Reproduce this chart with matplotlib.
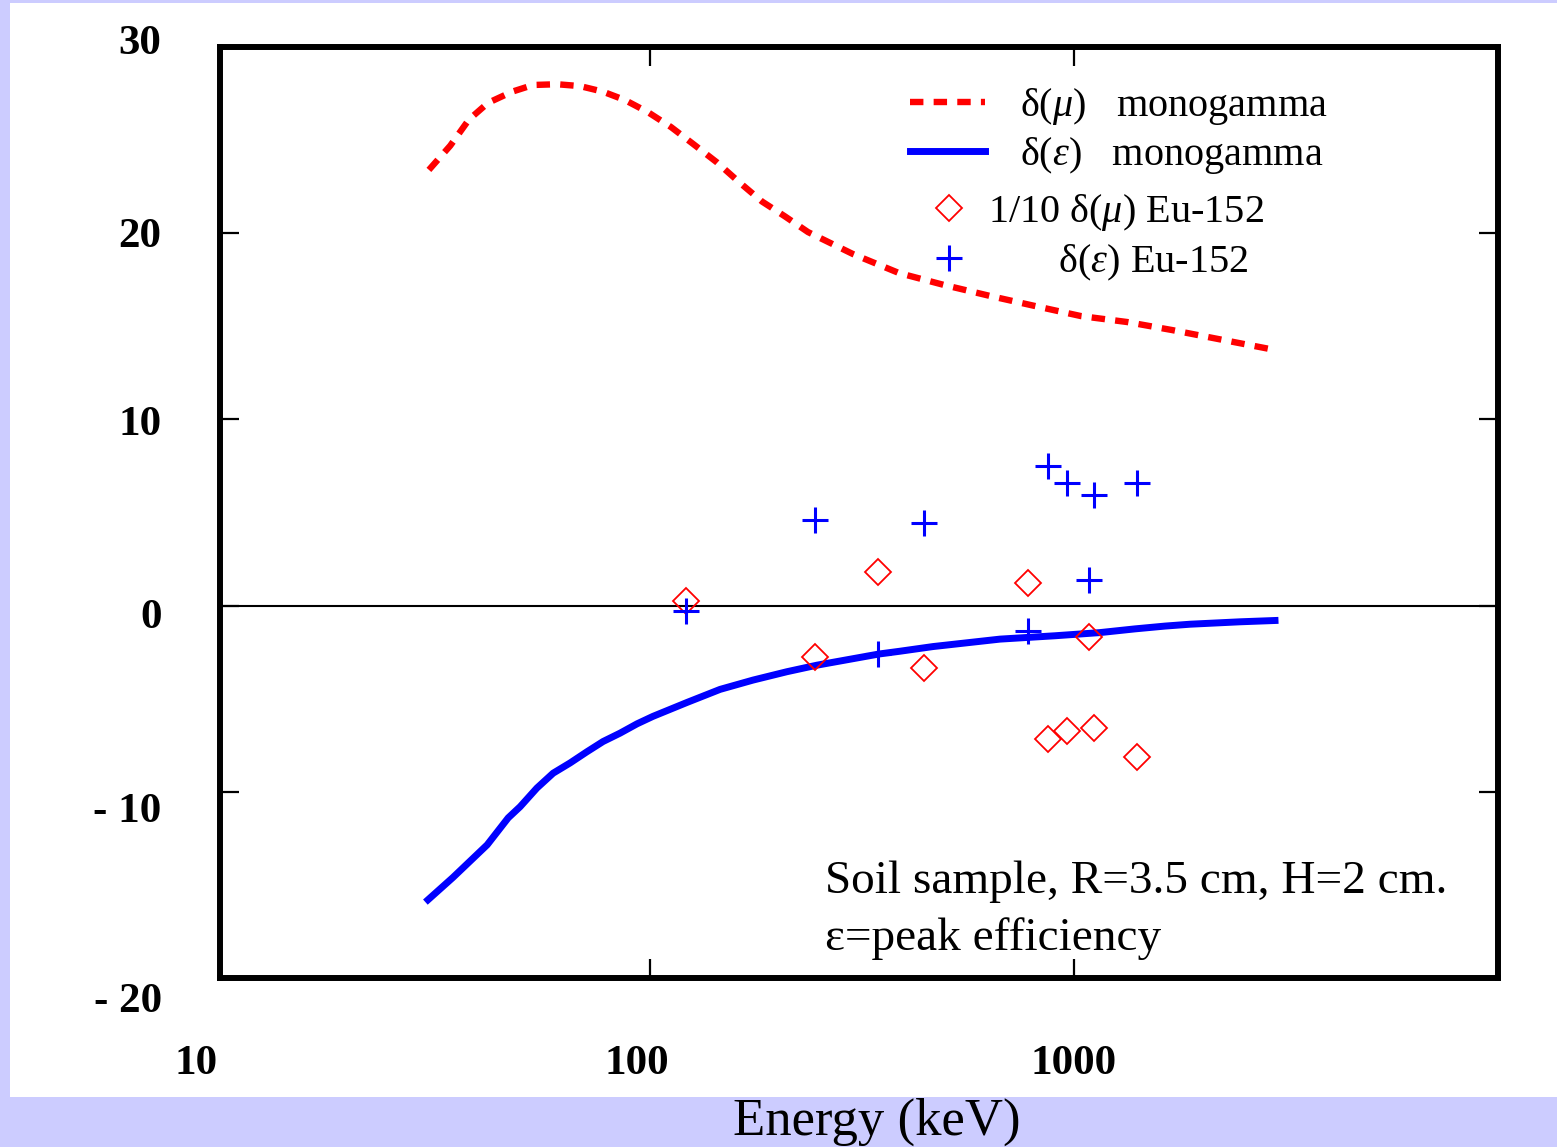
import matplotlib
matplotlib.use("Agg")
import matplotlib.pyplot as plt
from matplotlib.patches import Rectangle
from matplotlib.ticker import FixedLocator, FixedFormatter, NullLocator
from matplotlib.transforms import ScaledTranslation

plt.rcParams['font.family'] = ['Liberation Serif', 'DejaVu Serif']
plt.rcParams['mathtext.fontset'] = 'custom'
plt.rcParams['mathtext.rm'] = 'Liberation Serif'
plt.rcParams['mathtext.it'] = 'Liberation Serif:italic'
plt.rcParams['mathtext.bf'] = 'Liberation Serif:bold'

# --- data ---
# monogamma delta(mu) curve
mu_energy = [30.1, 33.8, 37.4, 41.5, 47.3, 53.0, 60.4, 68.4, 77.5, 87.3, 98.9, 112.1, 126.3,
             143.9, 163.1, 183.8, 208.2, 235.9, 301.1, 386.6, 493.7, 633.8, 809.2, 1038,
             1334, 1702, 2185, 2867]
mu_delta = [23.4, 24.7, 26.1, 27.0, 27.6, 27.96, 28.0, 27.9, 27.6, 27.15, 26.5, 25.7, 24.8,
            23.8, 22.7, 21.7, 20.9, 20.06, 18.88, 17.86, 17.22, 16.63, 16.09, 15.55, 15.23,
            14.8, 14.32, 13.8]

# monogamma delta(eps) curve
eps_energy = [29.95, 34.3, 41.3, 46.3, 49.4, 54.1, 59.1, 64.8, 71.0, 77.5, 85.0, 93.2, 101.6,
              122.3, 146.3, 175.0, 210.4, 247.6, 346.8, 388.8, 465.0, 669.1, 902, 1151, 1393,
              1639, 1877, 2463, 2979]
eps_delta = [-15.8, -14.6, -12.85, -11.4, -10.8, -9.8, -9.0, -8.45, -7.85, -7.3, -6.85, -6.35,
             -5.95, -5.2, -4.5, -4.0, -3.55, -3.2, -2.6, -2.45, -2.2, -1.8, -1.62, -1.45,
             -1.25, -1.1, -1.0, -0.87, -0.8]

# Eu-152 lines
eu_energy = [121.8, 244.7, 344.3, 443.9, 778.9, 867.4, 964.1, 1085.8, 1112.1, 1408.0]
eu_mu_tenth = [0.25, -2.76, 1.8, -3.35, 1.21, -7.16, -6.73, -1.69, -6.57, -8.13]
eu_eps = [-0.29, 4.6, -2.6, 4.44, -1.36, 7.5, 6.58, 1.37, 5.94, 6.58]

x_ticks = [10, 100, 1000]
x_ticklabels = ['10', '100', '1000']
y_ticks = [-20, -10, 0, 10, 20, 30]
y_ticklabels = ['- 20', '- 10', '0', '10', '20', '30']

W, H = 1557, 1147
fig = plt.figure(figsize=(W / 100, H / 100), dpi=100, facecolor='#ccccff')
fig.patches.append(Rectangle((10 / W, 50 / H), 1 - 10 / W, (1144 - 50) / H,
                             transform=fig.transFigure, facecolor='white',
                             edgecolor='none', zorder=-10))

ax = fig.add_axes([220 / W, (H - 978) / H, 1278 / W, 931 / H])
ax.set_facecolor('none')
ax.set_xscale('log')
ax.set_xlim(9.68, 10000)
ax.set_ylim(-20, 30)

ax.axhline(0, color='black', lw=1.5, zorder=1)
h_mu, = ax.plot(mu_energy, mu_delta, color='red', lw=4.6, ls=(0, (2.1, 1.6)), zorder=2)
h_eps, = ax.plot(eps_energy, eps_delta, color='blue', lw=5.0, zorder=2)
h_d, = ax.plot(eu_energy, eu_mu_tenth, ls='none', marker='D', ms=13.5, mfc='none',
               mec='red', mew=1.3, zorder=3)
h_p, = ax.plot(eu_energy, eu_eps, ls='none', marker='+', ms=19, mec='blue', mew=2.2, zorder=3)

ax.xaxis.set_major_locator(FixedLocator(x_ticks))
ax.xaxis.set_major_formatter(FixedFormatter(x_ticklabels))
ax.xaxis.set_minor_locator(NullLocator())
ax.yaxis.set_major_locator(FixedLocator(y_ticks))
ax.yaxis.set_major_formatter(FixedFormatter(y_ticklabels))
ax.tick_params(which='both', direction='in', top=True, right=True, length=14, width=1.6)
ax.tick_params(axis='x', pad=48)
ax.tick_params(axis='y', pad=42)
for lab in ax.get_xticklabels() + ax.get_yticklabels():
    lab.set_fontsize(31)
    lab.set_fontweight('bold')
for sp in ax.spines.values():
    sp.set_linewidth(4.3)

# the original labels sit slightly off their ticks
y_label_shift = [20, 16, 8, 1, -1, -7]
x_label_shift = [-30, -13, 0]
for tick, dy in zip(ax.yaxis.get_major_ticks(), y_label_shift):
    tick.label1.set_transform(tick.label1.get_transform()
                              + ScaledTranslation(0, -dy / 100, fig.dpi_scale_trans))
for tick, dx in zip(ax.xaxis.get_major_ticks(), x_label_shift):
    tick.label1.set_transform(tick.label1.get_transform()
                              + ScaledTranslation(dx / 100, 0, fig.dpi_scale_trans))
# no tick mark drawn at 10 keV, only its label
first = ax.xaxis.get_major_ticks()[0]
first.tick1line.set_visible(False)
first.tick2line.set_visible(False)

leg_kw = dict(loc='upper left', frameon=False, fontsize=29, borderpad=0, borderaxespad=0)
leg1 = ax.legend([h_mu, h_eps],
                 [r'δ($\mu$)   monogamma', r'δ($\varepsilon$)   monogamma'],
                 bbox_to_anchor=(0.54, 0.958), handlelength=1.86, handletextpad=0.87,
                 labelspacing=0.2, **leg_kw)
ax.add_artist(leg1)
ax.legend([h_d, h_p],
          [r'1/10 δ($\mu$) Eu-152', r'       δ($\varepsilon$) Eu-152'],
          bbox_to_anchor=(0.5548, 0.8445), handlelength=1.0, handletextpad=0.47,
          labelspacing=0.25, numpoints=1, **leg_kw)

ax.text(0.4734, 0.0913, 'Soil sample, R=3.5 cm, H=2 cm.', transform=ax.transAxes,
        fontsize=34, va='baseline', ha='left')
ax.text(0.4734, 0.0301, 'ε=peak efficiency', transform=ax.transAxes,
        fontsize=34, va='baseline', ha='left')

fig.text(877 / W, 1 - 1122 / H, 'Energy (keV)', fontsize=38, ha='center', va='center')

fig.savefig('out.png', dpi=100, facecolor=fig.get_facecolor())
